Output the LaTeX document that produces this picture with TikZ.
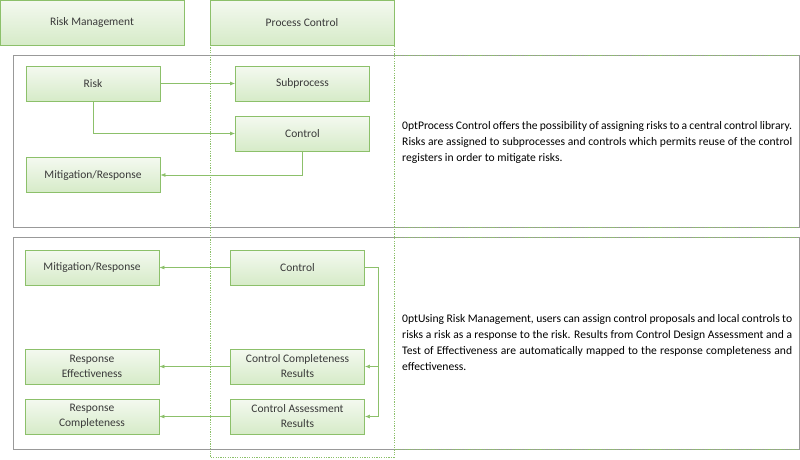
\documentclass[tikz,border=0pt]{standalone}
\usepackage{fontspec}
\setmainfont{Carlito}
\usetikzlibrary{arrows.meta}
\definecolor{gb}{HTML}{8CC06A}
\definecolor{gt}{HTML}{F4F9F0}
\definecolor{gbot}{HTML}{D6EBC8}
\definecolor{tx}{HTML}{3A3A3A}
\tikzset{
 bx/.style={draw=gb,line width=0.9pt,top color=gt,bottom color=gbot,text=tx,align=center,font=\fontsize{11.5}{15}\selectfont,inner sep=0pt},
 ar/.style={draw=gb,line width=0.7pt,-{Latex[length=5pt,width=4pt]}},
 dsh/.style={draw=gb,dash pattern=on 1.2pt off 1.2pt,line width=0.5pt},
 gry/.style={draw=gray!80,line width=0.8pt},
 para/.style={anchor=west,text width=390pt,align=justify,font=\fontsize{11.6}{16}\selectfont\hyphenpenalty=10000\exhyphenpenalty=10000,text=black,inner sep=0pt}
}
\begin{document}
\begin{tikzpicture}[x=1pt,y=-1pt]
\useasboundingbox (0,0) rectangle (800,459);
\draw[gry] (13,55) rectangle (799,227);
\draw[gry] (13,237) rectangle (799,449);
\draw[dsh] (210,45) rectangle (394,457);
\draw[dsh] (394,55) -- (799,55) (394,227) -- (799,227) (394,237) -- (799,237) (394,449)--(799,449);
\node[bx,minimum width=184pt,minimum height=45pt] (rm) at (92,22.5) {Risk Management};
\node[bx,minimum width=184pt,minimum height=45pt] (pc) at (302,22.5) {Process Control};
\tikzset{nb/.style={bx,minimum width=134pt,minimum height=35pt}}
\node[nb] (risk) at (93,83.5) {Risk};
\node[nb] (sub) at (302.5,83.5) {Subprocess};
\node[nb] (ctl) at (302.5,133.5) {Control};
\node[nb] (mit) at (93,175) {Mitigation/Response};
\draw[ar] (risk) -- (sub);
\draw[ar] (risk.south) |- (ctl.west);
\draw[ar] (ctl.south) |- (mit.east);
\node[nb] (mit2) at (92,267.5) {Mitigation/Response};
\node[nb] (ctl2) at (297.5,267.5) {Control};
\node[nb] (ccr) at (297.5,366.5) {Control Completeness\\Results};
\node[nb] (re) at (92,366.5) {Response\\Effectiveness};
\node[nb] (car) at (297.5,416.5) {Control Assessment\\Results};
\node[nb] (rc) at (92,416.5) {Response\\Completeness};
\coordinate (br) at (378,267.5);
\draw[ar] (ctl2) -- (mit2);
\draw[ar] (ccr) -- (re);
\draw[ar] (car) -- (rc);
\draw[ar] (ctl2.east) -- (br) |- (ccr.east);
\draw[ar] (br) |- (car.east);
\node[para] (t1) at (402,142) {Process Control offers the possibility of assigning risks to a central control library. Risks are assigned to subprocesses and controls which permits reuse of the control registers in order to mitigate risks.};
\node[para] (t2) at (402,343) {Using Risk Management, users can assign control proposals and local controls to risks a risk as a response to the risk. Results from Control Design Assessment and a Test of Effectiveness are automatically mapped to the response completeness and effectiveness.};
\end{tikzpicture}
\end{document}
